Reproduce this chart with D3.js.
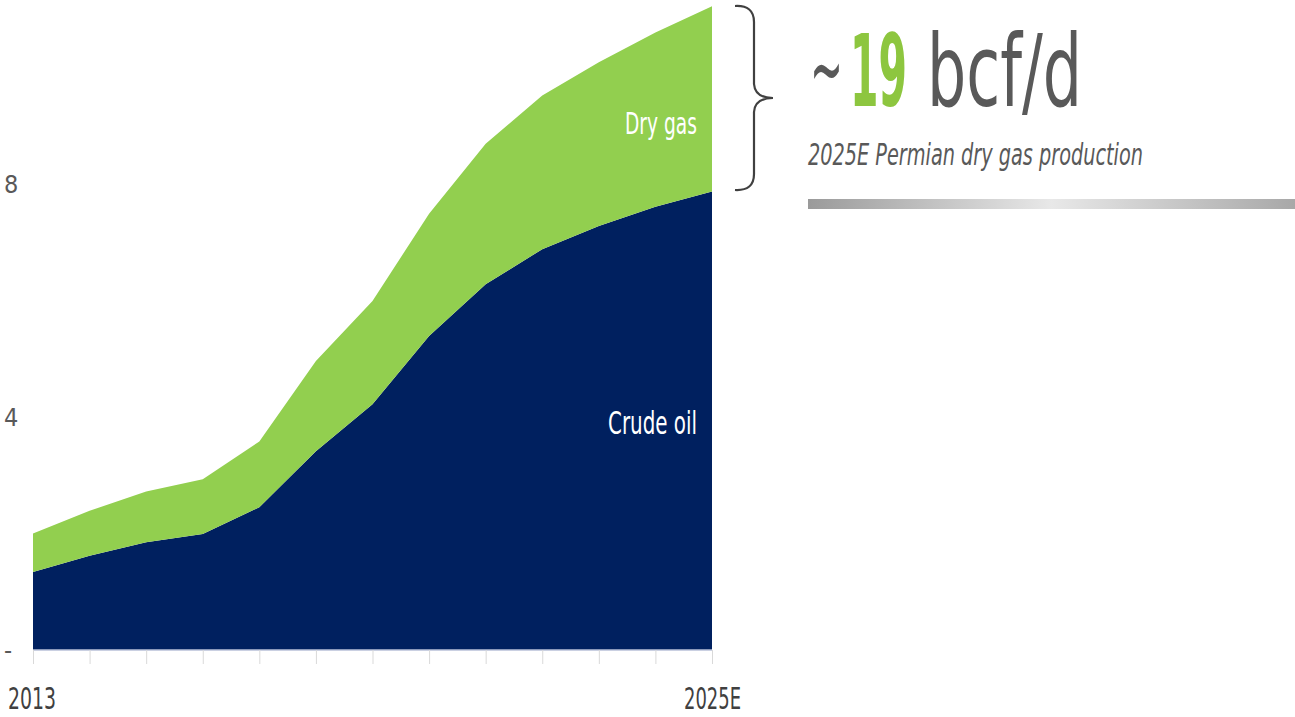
<!DOCTYPE html>
<html><head><meta charset="utf-8">
<script src="https://cdn.jsdelivr.net/npm/d3@7"></script>
<style>body{margin:0;background:#fff}svg{display:block}text{font-family:"Liberation Sans Narrow","DejaVu Sans Condensed",Lato,sans-serif}</style>
</head><body><svg id="c" width="1295" height="717"></svg>
<script>
const years = ["2013","2014","2015","2016","2017","2018","2019","2020","2021","2022","2023","2024","2025E"];
const crudeOil = [1.34,1.62,1.85,1.99,2.45,3.41,4.22,5.39,6.28,6.88,7.28,7.61,7.87];
const dryGas   = [0.66,0.77,0.87,0.94,1.13,1.55,1.77,2.10,2.41,2.64,2.81,2.99,3.18];
const yTicks = [0,4,8];
const xLabels = ["2013","2025E"];

const svg = d3.select("#c");
const x = d3.scalePoint().domain(years).range([33,712]);
const y = d3.scaleLinear().domain([0,8]).range([650,184]);

const rows = years.map((yr,i)=>({year:yr, oil:crudeOil[i], gas:dryGas[i]}));
const stack = d3.stack().keys(["oil","gas"])(rows);
const colors = {oil:"#00205F", gas:"#92CF4F"};
const area = d3.area().x(d=>x(d.data.year)).y0(d=>y(d[0])).y1(d=>y(d[1]));
svg.selectAll("path.layer").data(stack).join("path").attr("class","layer")
  .attr("d",area).attr("fill",d=>colors[d.key]);

// x axis ticks
const xAxis = d3.axisBottom(x).tickSize(14).tickFormat("");
const gx = svg.append("g").attr("transform","translate(0,650)").call(xAxis);
gx.select(".domain").attr("stroke","#b8c0d8").attr("stroke-width",1.5).attr("d","M33,0H712");
gx.selectAll(".tick line").attr("stroke","#d9d9d9");

svg.selectAll("text.xl").data(xLabels).join("text").attr("class","xl")
  .attr("x",d=>d==="2013"?8:741).attr("y",709)
  .attr("text-anchor",d=>d==="2013"?"start":"end")
  .attr("font-size",30).attr("fill","#404040")
  .attr("textLength",d=>d==="2013"?48:57).attr("lengthAdjust","spacingAndGlyphs")
  .text(d=>d);

svg.selectAll("text.yl").data(yTicks).join("text").attr("class","yl")
  .attr("x",4).attr("y",d=>y(d)+9)
  .attr("font-size",25).attr("fill","#595959")
  .text(d=>d===0?"-":d);

// series labels
svg.append("text").attr("x",697).attr("y",134).attr("text-anchor","end")
  .attr("font-size",31).attr("fill","#fff")
  .attr("textLength",72).attr("lengthAdjust","spacingAndGlyphs").text("Dry gas");
svg.append("text").attr("x",697).attr("y",434).attr("text-anchor","end")
  .attr("font-size",32).attr("fill","#fff")
  .attr("textLength",89).attr("lengthAdjust","spacingAndGlyphs").text("Crude oil");

// bracket
svg.append("path").attr("d","M735,6 Q754,5 754,22 L754,84 Q755,98 773,98 Q755,98 754,112 L754,174 Q754,191 735,190")
  .attr("fill","none").attr("stroke","#404040").attr("stroke-width",2.2);

// headline pieces, scaled horizontally to fit their widths
function fitText(txt, x0, y0, size, width, fill, weight){
  const t = svg.append("text").attr("x",0).attr("y",0).attr("font-size",size)
    .attr("fill",fill).attr("font-weight",weight||"normal").text(txt);
  const w = t.node().getComputedTextLength();
  t.attr("transform",`translate(${x0},${y0}) scale(${width/w},1)`);
  return t;
}
fitText("~", 810, 100, 90, 33, "#595959");
fitText("19", 850, 106, 100, 57, "#8DC63F", "bold");
fitText("bcf/d", 927, 106, 100, 155, "#595959");

svg.append("text").attr("x",808).attr("y",165).attr("font-size",30).attr("font-style","italic")
  .attr("fill","#595959").attr("textLength",335).attr("lengthAdjust","spacingAndGlyphs")
  .text("2025E Permian dry gas production");

const grad = svg.append("defs").append("linearGradient").attr("id","g1");
grad.append("stop").attr("offset","0%").attr("stop-color","#9a9a9a");
grad.append("stop").attr("offset","50%").attr("stop-color","#e8e8e8");
grad.append("stop").attr("offset","100%").attr("stop-color","#a8a8a8");
svg.append("rect").attr("x",808).attr("y",199).attr("width",487).attr("height",10).attr("fill","url(#g1)");
</script></body></html>
